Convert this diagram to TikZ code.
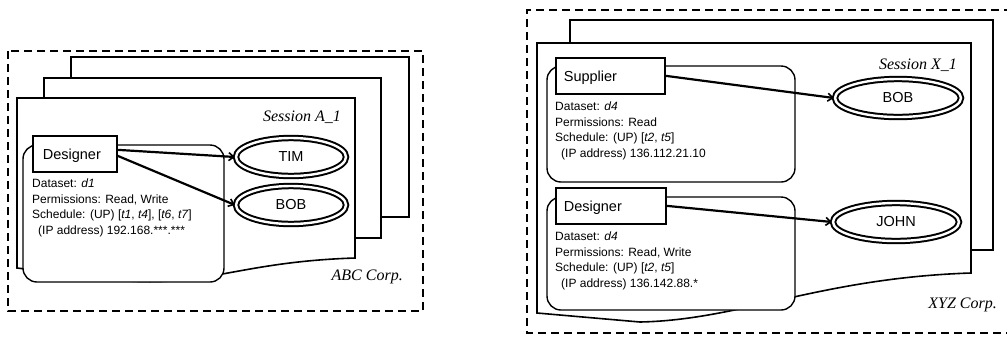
\documentclass[tikz,border=0pt]{standalone}
\usepackage{fontspec}
\setmainfont{Liberation Serif}
\newfontfamily\arialf{Liberation Sans}
\usetikzlibrary{arrows.meta,calc,shapes.geometric}
\begin{document}
\begin{tikzpicture}[x=1pt,y=-1pt,
  outerbox/.style={line width=1.8pt,dash pattern=on 8pt off 5pt},
  page/.style={draw,fill=white,line width=1.6pt,line join=miter},
  rolebox/.style={draw,fill=white,rounded corners=14pt,line width=1.4pt},
  namebox/.style={draw,fill=white,line width=1.7pt,font=\arialf\fontsize{14.5}{16}\selectfont,anchor=north west,minimum height=36pt,inner xsep=8pt,text depth=0pt},
  infotext/.style={anchor=north west,inner sep=0pt,align=left,font=\arialf\fontsize{12}{15.5}\selectfont},
  user/.style={ellipse,draw,double,double distance=2.4pt,line width=2pt,fill=white,minimum width=110pt,minimum height=38pt,inner sep=0pt,font=\arialf\fontsize{14.5}{16}\selectfont},
  sess/.style={font=\itshape\fontsize{16}{17}\selectfont,anchor=east,inner sep=0pt},
  link/.style={line width=2.2pt,-{Straight Barb[length=5pt,width=8pt,line width=1.6pt]}}]
\useasboundingbox (0,0) rectangle (1007,341);
% ---------- left panel ----------
\draw[outerbox] (8,51) rectangle (423,311);
\path[page] (71,57) rectangle (409,217);
\path[page] (44,78) rectangle (381,238);
\path[page] (17,268) -- (17,98) -- (355,98) -- (355,258)
   .. controls (230,262) and (200,292) .. (100,278) -- cycle;
\node[sess] (sa) at (341,117) {Session A\_1};
\node[sess] (abc) at (403,277) {ABC Corp.};
\draw[rolebox] (23,145) rectangle (224,282);
\node[namebox,minimum width=84pt,align=left] (desA) at (32,135) {Designer\hspace*{6pt}};
\node[infotext] (infoA) at ($(desA.south west)+(0,6)$) {Dataset: \textit{d1}\\Permissions: Read, Write\\Schedule: (UP) [\textit{t1}, \textit{t4}], [\textit{t6}, \textit{t7}]\\\hspace*{6pt}(IP address) 192.168.***.***};
\node[user] (tim) at (291,157) {TIM};
\node[user] (bobA) at (291,205) {BOB};
\draw[link] ([yshift=4pt]desA.east) -- (tim.west);
\draw[link] ([yshift=-2pt]desA.east) -- (bobA.west);
% ---------- right panel ----------
\draw[outerbox] (1012,10) -- (527,10) -- (527,333) -- (1012,333);
\path[page] (570,20) rectangle (993,250);
\path[page] (537,313) -- (537,43) -- (971,43) -- (971,273)
   .. controls (820,278) and (740,320) .. (640,322) -- cycle;
\node[sess] (sx) at (957,65) {Session X\_1};
\node[sess] (xyz) at (997,305) {XYZ Corp.};
\draw[rolebox] (547,66) rectangle (795,182);
\draw[rolebox] (547,197) rectangle (795,310);
\node[namebox,minimum width=103pt] (sup) at (555,57) {Supplier\hspace*{40pt}};
\node[infotext] (infoS) at ($(sup.south west)+(0,7)$) {Dataset: \textit{d4}\\Permissions: Read\\Schedule: (UP) [\textit{t2}, \textit{t5}]\\\hspace*{6pt}(IP address) 136.112.21.10};
\node[namebox,minimum width=103pt] (desX) at (555,187) {Designer\hspace*{36pt}};
\node[infotext] (infoX) at ($(desX.south west)+(0,7)$) {Dataset: \textit{d4}\\Permissions: Read, Write\\Schedule: (UP) [\textit{t2}, \textit{t5}]\\\hspace*{6pt}(IP address) 136.142.88.*};
\node[user,minimum width=126pt] (bobX) at (898,98) {BOB};
\node[user,minimum width=126pt] (john) at (896,222) {JOHN};
\draw[link] (sup.east) -- (bobX.west);
\draw[link] (desX.east) -- (john.west);
\end{tikzpicture}
\end{document}
